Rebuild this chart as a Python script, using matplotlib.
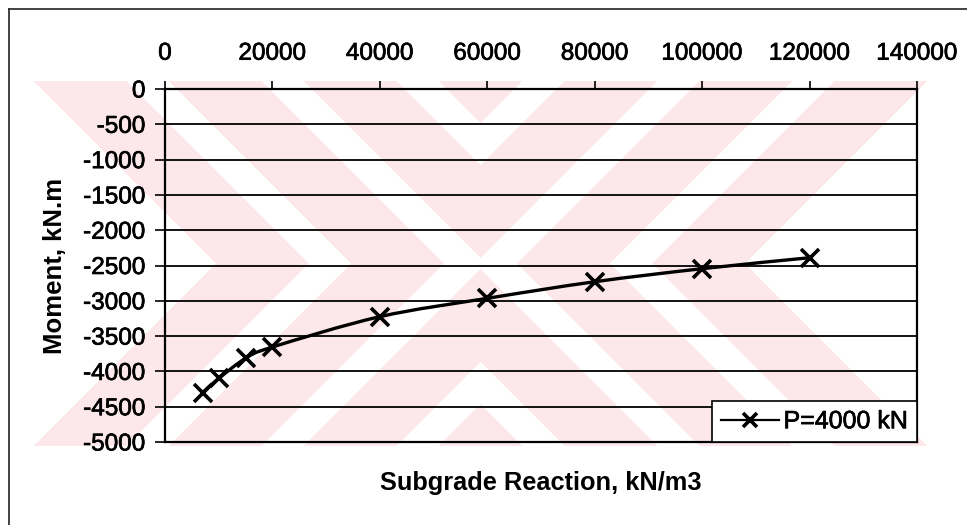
import numpy as np
import matplotlib
matplotlib.use("Agg")
import matplotlib.pyplot as plt
import matplotlib.patheffects as pe
from matplotlib.path import Path
from matplotlib.patches import PathPatch
from matplotlib.lines import Line2D

# Bending moment versus subgrade reaction modulus
subgrade_reaction = [7000, 10000, 15000, 20000, 40000, 60000, 80000, 100000, 120000]
moment = [-4300, -4100, -3815, -3655, -3225, -2965, -2730, -2545, -2390]
series_label = "P=4000 kN"

x_ticks = [0, 20000, 40000, 60000, 80000, 100000, 120000, 140000]
y_ticks = [0, -500, -1000, -1500, -2000, -2500, -3000, -3500, -4000, -4500, -5000]

W, H = 967, 525
plt.rcParams['font.family'] = ['Liberation Sans', 'DejaVu Sans']

fig = plt.figure(figsize=(W / 100, H / 100), dpi=100)
fig.patch.set_facecolor('white')

# Faint striped "X" mark printed behind the chart
bg = fig.add_axes([0, 0, 1, 1], zorder=0)
bg.set_axis_off()
yy, xx = np.mgrid[0:H, 0:W].astype(float)
cx, cy = 480.0, 263.0
period, white_w = 135.0, 42.0
f = np.abs(xx - cx) - np.abs(yy - cy)
stripe_pink = np.mod(f - 130.0, period) >= white_w
band = (yy >= 81) & (yy <= 445) & (f <= 278) & (xx >= 20)
pink = band & stripe_pink
img = np.ones((H, W, 3))
pink_rgb = np.array([252, 231, 235]) / 255.0
img[pink] = pink_rgb
bg.imshow(img, extent=(0, W, H, 0), interpolation='nearest', aspect='auto')
bg.set_xlim(0, W)
bg.set_ylim(H, 0)

# Outer chart frame
fig.add_artist(Line2D([9 / W, 9 / W], [0, 1 - 9 / H], transform=fig.transFigure,
                      color='#222222', lw=1.2))
fig.add_artist(Line2D([9 / W, 1], [1 - 9 / H, 1 - 9 / H], transform=fig.transFigure,
                      color='#222222', lw=1.2))

ax = fig.add_axes([165 / W, 1 - 442 / H, 752 / W, 353 / H], zorder=1)
ax.set_facecolor('none')
ax.set_xlim(0, 140000)
ax.set_ylim(-5000, 0)

ax.xaxis.tick_top()
ax.xaxis.set_label_position('bottom')
ax.set_xticks(x_ticks)
ax.set_xticklabels([str(v) for v in x_ticks])
ax.set_yticks(y_ticks)
ax.set_yticklabels([str(v) for v in y_ticks])
ax.tick_params(axis='x', direction='out', length=6, width=1.2, pad=11.5,
               labelsize=17.5, colors='black')
ax.tick_params(axis='y', direction='out', length=7, width=1.2, pad=7,
               labelsize=17.5, colors='black')

heavy = [pe.withStroke(linewidth=0.5, foreground='black')]
for lbl in ax.get_xticklabels() + ax.get_yticklabels():
    lbl.set_path_effects(heavy)

for s in ax.spines.values():
    s.set_linewidth(1.6)
    s.set_color('black')

ax.yaxis.grid(True, color='black', linewidth=1.3)
ax.set_axisbelow(False)

# Smoothed connecting curve (Catmull-Rom segments as cubic Beziers)
pts = np.column_stack([subgrade_reaction, moment]).astype(float)
ext = np.vstack([pts[0], pts, pts[-1]])
verts = [tuple(pts[0])]
codes = [Path.MOVETO]
for i in range(len(pts) - 1):
    p0, p1, p2, p3 = ext[i], ext[i + 1], ext[i + 2], ext[i + 3]
    c1 = p1 + (p2 - p0) / 6.0
    c2 = p2 - (p3 - p1) / 6.0
    verts += [tuple(c1), tuple(c2), tuple(p2)]
    codes += [Path.CURVE4] * 3
curve = PathPatch(Path(verts, codes), fill=False, edgecolor='black', lw=2.4,
                  transform=ax.transData, zorder=3, capstyle='round')
ax.add_patch(curve)
ax.plot(subgrade_reaction, moment, linestyle='none', marker='x', markersize=12.5,
        markeredgewidth=2.6, color='black', zorder=4)

handle = Line2D([], [], color='black', lw=1.6, marker='x', markersize=10,
                markeredgewidth=2.6)
leg = ax.legend([handle], [series_label], loc='lower right', bbox_to_anchor=(1, 0),
                borderaxespad=0, frameon=True, fancybox=False, shadow=False,
                fontsize=18, handlelength=2.3, handletextpad=0.2, borderpad=0.35)
leg.get_frame().set_edgecolor('black')
leg.get_frame().set_linewidth(1.2)
leg.get_frame().set_facecolor('white')
leg.get_frame().set_alpha(1)
for t in leg.get_texts():
    t.set_path_effects(heavy)

ax.set_xlabel('Subgrade Reaction, kN/m3', fontsize=18.3, fontweight='bold', labelpad=21)
ax.set_ylabel('Moment, kN.m', fontsize=18.5, fontweight='bold', labelpad=11.5)

fig.savefig('out.png', dpi=100)
